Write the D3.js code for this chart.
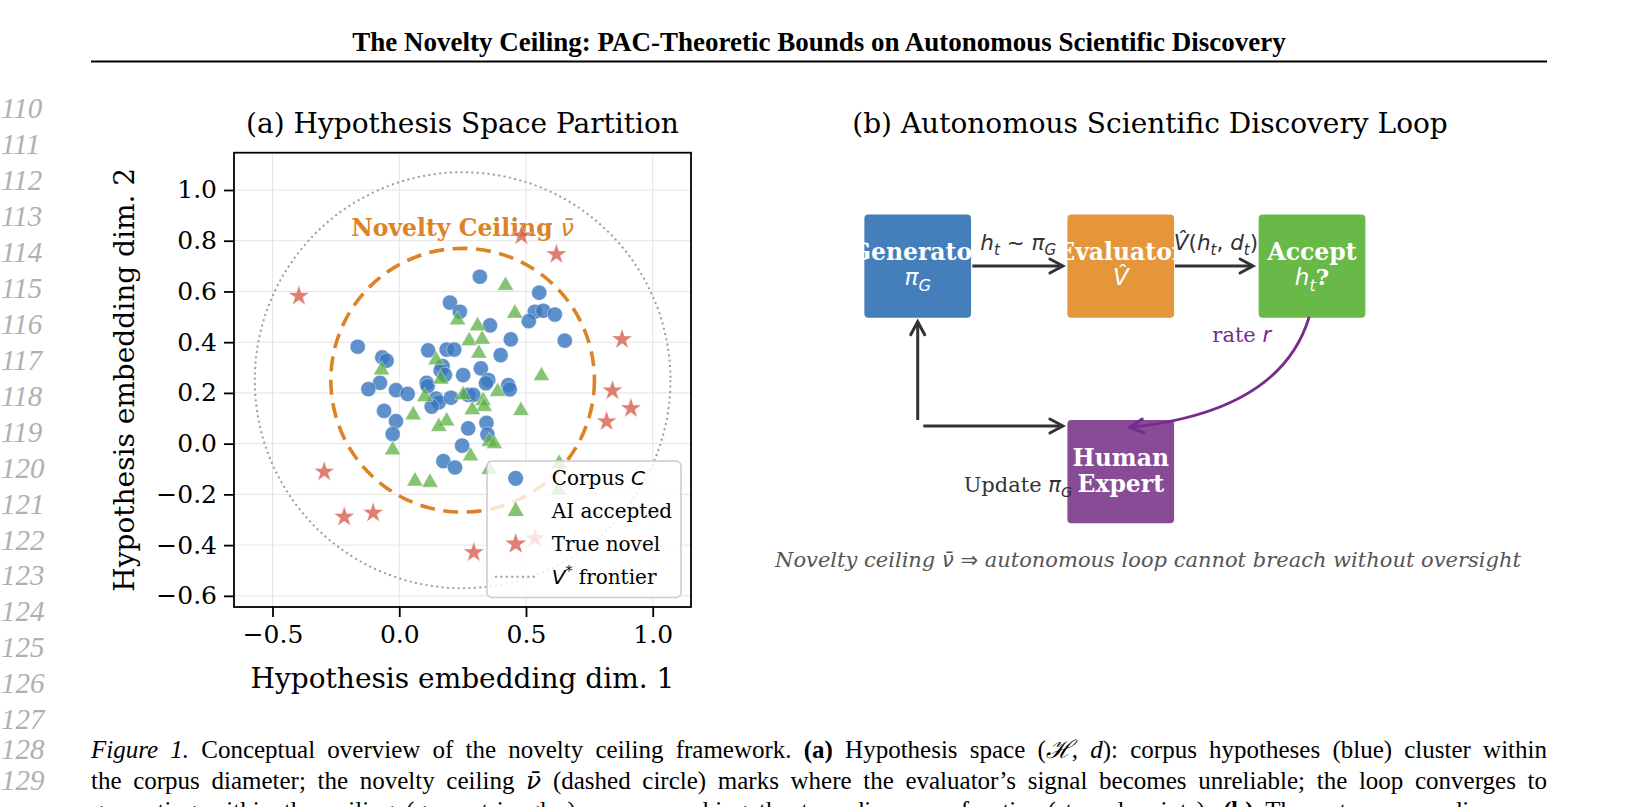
<!DOCTYPE html>
<html>
<head>
<meta charset="utf-8">
<script src="https://cdn.jsdelivr.net/npm/d3@7"></script>
<style>
  body { margin: 0; background: #fff; }
  svg { display: block; }
</style>
</head>
<body>
<script>
(function() {
  'use strict';

  // ---------- panel (a) data ----------
  var corpusX = [0.318, 0.200, 0.239, 0.358, 0.552, 0.535, 0.568, 0.614, 0.511, 0.653, 0.440, 0.400,
    -0.164, -0.067, -0.050, 0.114, 0.187, 0.217, 0.171, 0.163, 0.180, 0.252, 0.322, 0.351, 0.342,
    0.430, 0.436, 0.108, 0.112, -0.076, -0.122, -0.013, 0.033, 0.145, 0.156, 0.128, 0.204, 0.272,
    0.292, -0.060, -0.013, -0.026, 0.272, 0.344, 0.348, 0.248, 0.174, 0.220];
  var corpusY = [0.658, 0.556, 0.520, 0.466, 0.595, 0.520, 0.524, 0.509, 0.483, 0.406, 0.411, 0.349,
    0.382, 0.340, 0.327, 0.368, 0.371, 0.371, 0.306, 0.288, 0.271, 0.270, 0.297, 0.251, 0.238,
    0.231, 0.214, 0.240, 0.227, 0.240, 0.215, 0.211, 0.196, 0.178, 0.163, 0.146, 0.181, 0.192,
    0.192, 0.129, 0.089, 0.038, 0.060, 0.082, 0.036, -0.008, -0.069, -0.094];

  var acceptedX = [0.419, 0.456, 0.230, 0.309, 0.276, 0.327, 0.314, 0.145, -0.070, 0.164, 0.561, 0.388,
    0.331, 0.252, 0.101, 0.335, 0.288, 0.480, 0.055, 0.187, 0.156, 0.355, 0.375, -0.026, 0.281,
    0.355, 0.062, 0.121, 0.631, 0.627];
  var acceptedY = [0.623, 0.514, 0.487, 0.464, 0.405, 0.411, 0.356, 0.330, 0.290, 0.254, 0.267, 0.205,
    0.169, 0.192, 0.185, 0.146, 0.133, 0.130, 0.113, 0.089, 0.067, 0.008, -0.001, -0.025, -0.049,
    -0.102, -0.148, -0.153, -0.078, -0.183];

  var novelX = [-0.396, 0.482, 0.620, 0.879, 0.841, 0.914, 0.818, -0.296, -0.217, -0.103, 0.294, 0.535];
  var novelY = [0.582, 0.820, 0.746, 0.411, 0.209, 0.139, 0.087, -0.111, -0.289, -0.273, -0.429, -0.374];

  var ceilingCenter = [0.25, 0.25];
  var ceilingRadius = 0.52;
  var frontierRadius = 0.82;

  var xTicks = [-0.5, 0.0, 0.5, 1.0];
  var yTicks = [-0.6, -0.4, -0.2, 0.0, 0.2, 0.4, 0.6, 0.8, 1.0];

  // ---------- panel (b) data ----------
  var nodeIds = ['gen', 'eval', 'acc', 'human'];
  var nodeTitles = [['Generator'], ['Evaluator'], ['Accept'], ['Human', 'Expert']];

  // ---------- page text ----------
  var headerTitle = 'The Novelty Ceiling: PAC-Theoretic Bounds on Autonomous Scientific Discovery';
  var lineNumbers = d3.range(110, 130);
  var captionLines = [
    [['Figure 1.', 'i'], [' Conceptual overview of the novelty ceiling framework. ', ''], ['(a)', 'b'],
     [' Hypothesis space (', ''], ['\u210B', 'i'], [', ', ''], ['d', 'i'], ['): corpus hypotheses (blue) cluster within', '']],
    [['the corpus diameter; the novelty ceiling ', ''], ['\u03BD\u0304', 'di'],
     [' (dashed circle) marks where the evaluator\u2019s signal becomes unreliable; the loop converges to', '']],
    [['generating within the ceiling (green triangles), never reaching the true discovery frontier (starred points). ', ''],
     ['(b)', 'b'], [' The autonomous discovery', '']]
  ];

  var W = 1639, H = 807;
  var SERIF = "'DejaVu Serif', serif",
    SANS = "'DejaVu Sans', sans-serif",
    PAPER = "'Liberation Serif', 'Times New Roman', serif";

  var svg = d3.select('body').append('svg')
    .attr('width', W)
    .attr('height', H);

  // runs: [text, code]  m = math italic (sans), d = DejaVu Serif, i = italic, b = bold,
  // s = subscript, S = superscript
  function addRuns(sel, list, size, fam) {
    var shift = 0;
    list.forEach(function(r) {
      var code = r[1] || '';
      var f = fam, st = 'normal', wt = 'normal', fs = size, target = 0;
      if (code.indexOf('m') >= 0) { f = SANS; st = 'italic'; }
      if (code.indexOf('d') >= 0) f = SERIF;
      if (code.indexOf('i') >= 0) st = 'italic';
      if (code.indexOf('b') >= 0) wt = 'bold';
      if (code.indexOf('s') >= 0) { fs = size * 0.7; target = size * 0.24; }
      if (code.indexOf('S') >= 0) { fs = size * 0.7; target = -size * 0.4; }
      sel.append('tspan')
        .attr('dy', target - shift)
        .style('font-family', f)
        .style('font-style', st)
        .style('font-weight', wt)
        .style('font-size', fs + 'px')
        .text(r[0]);
      shift = target;
    });
    return sel;
  }

  //-----------------------Page header---------------------------
  svg.append('text')
    .attr('x', 819).attr('y', 51)
    .attr('text-anchor', 'middle')
    .style('font-family', PAPER)
    .style('font-weight', 'bold')
    .style('font-size', '27px')
    .text(headerTitle);

  svg.append('line')
    .attr('x1', 91).attr('x2', 1547)
    .attr('y1', 61.5).attr('y2', 61.5)
    .attr('stroke', '#000')
    .attr('stroke-width', 2);

  svg.append('g').selectAll('text')
    .data(lineNumbers)
    .enter().append('text')
    .attr('x', 1)
    .attr('y', function(d) {
      if (d === 128) return 759;
      if (d === 129) return 789.5;
      return 118 + (d - 110) * 35.96;
    })
    .style('font-family', PAPER)
    .style('font-style', 'italic')
    .style('font-size', '29px')
    .style('fill', '#b0b0b0')
    .text(function(d) { return d; });

  // caption, justified
  var capG = svg.append('g');
  var capBase = [758, 788.5, 819];
  captionLines.forEach(function(line, li) {
    var words = [[]];
    line.forEach(function(r) {
      var parts = r[0].split(' ');
      parts.forEach(function(p, pi) {
        if (pi > 0) words.push([]);
        if (p !== '') words[words.length - 1].push([p, r[1]]);
      });
    });
    words = words.filter(function(w) { return w.length; });
    var nodes = [], widths = [];
    words.forEach(function(w) {
      var t = capG.append('text').attr('y', capBase[li]).style('fill', '#000');
      addRuns(t, w, 25, PAPER);
      nodes.push(t);
      widths.push(t.node().getComputedTextLength());
    });
    var total = d3.sum(widths);
    var gap = (1547 - 91 - total) / (nodes.length - 1);
    var xx = 91;
    nodes.forEach(function(t, i) {
      t.attr('x', xx);
      xx += widths[i] + gap;
    });
  });

  //-----------------------Panel (a)---------------------------
  var plotL = 234, plotR = 691, plotT = 152.7, plotB = 607;
  var x = d3.scaleLinear().domain([-0.652, 1.151]).range([plotL, plotR]);
  var y = d3.scaleLinear().domain([-0.644, 1.147]).range([plotB, plotT]);

  var pa = svg.append('g');

  pa.append('clipPath').attr('id', 'clipA')
    .append('rect')
    .attr('x', plotL).attr('y', plotT)
    .attr('width', plotR - plotL).attr('height', plotB - plotT);

  // grid
  pa.append('g').selectAll('line.gx')
    .data(xTicks).enter().append('line')
    .attr('x1', x).attr('x2', x)
    .attr('y1', plotT).attr('y2', plotB)
    .attr('stroke', '#e4e4e4').attr('stroke-width', 1);
  pa.append('g').selectAll('line.gy')
    .data(yTicks).enter().append('line')
    .attr('x1', plotL).attr('x2', plotR)
    .attr('y1', y).attr('y2', y)
    .attr('stroke', '#e4e4e4').attr('stroke-width', 1);

  var inner = pa.append('g').attr('clip-path', 'url(#clipA)');

  function ring(r) {
    return {
      cx: x(ceilingCenter[0]), cy: y(ceilingCenter[1]),
      rx: x(ceilingCenter[0] + r) - x(ceilingCenter[0]),
      ry: y(ceilingCenter[1]) - y(ceilingCenter[1] + r)
    };
  }
  var fr = ring(frontierRadius);
  inner.append('ellipse')
    .attr('cx', fr.cx).attr('cy', fr.cy).attr('rx', fr.rx).attr('ry', fr.ry)
    .attr('fill', 'none')
    .attr('stroke', '#9c9c9c')
    .attr('stroke-width', 2)
    .attr('stroke-dasharray', '2,3.4');

  var cr = ring(ceilingRadius);
  inner.append('ellipse')
    .attr('cx', cr.cx).attr('cy', cr.cy).attr('rx', cr.rx).attr('ry', cr.ry)
    .attr('fill', 'none')
    .attr('stroke', '#dc8326')
    .attr('stroke-width', 3.6)
    .attr('stroke-dasharray', '15,8.5');

  var blue = '#3b78c0', green = '#5cb043', red = '#d65f4e', orange = '#dc8326';

  inner.append('g').selectAll('circle')
    .data(d3.range(corpusX.length)).enter().append('circle')
    .attr('cx', function(i) { return x(corpusX[i]); })
    .attr('cy', function(i) { return y(corpusY[i]); })
    .attr('r', 7.6)
    .attr('fill', blue)
    .attr('fill-opacity', 0.82)
    .attr('stroke', '#fff').attr('stroke-opacity', 0.5).attr('stroke-width', 0.8);

  var tri = d3.symbol().type(d3.symbolTriangle).size(115);
  inner.append('g').selectAll('path')
    .data(d3.range(acceptedX.length)).enter().append('path')
    .attr('transform', function(i) { return 'translate(' + x(acceptedX[i]) + ',' + y(acceptedY[i]) + ')'; })
    .attr('d', tri)
    .attr('fill', green)
    .attr('fill-opacity', 0.75)
    .attr('stroke', '#fff').attr('stroke-opacity', 0.5).attr('stroke-width', 0.8);

  // ceiling label
  var nl = inner.append('text')
    .attr('x', x(0.25)).attr('y', y(0.85) + 8)
    .attr('text-anchor', 'middle')
    .style('fill', orange);
  addRuns(nl, [['Novelty Ceiling ', 'b'], ['\u03BD\u0304', 'm']], 23.5, SERIF);

  var star = d3.symbol().type(d3.symbolStar).size(135);
  inner.append('g').selectAll('path')
    .data(d3.range(novelX.length)).enter().append('path')
    .attr('transform', function(i) { return 'translate(' + x(novelX[i]) + ',' + y(novelY[i]) + ')'; })
    .attr('d', star)
    .attr('fill', red)
    .attr('fill-opacity', 0.8)
    .attr('stroke', '#fff').attr('stroke-opacity', 0.5).attr('stroke-width', 0.8);

  // axes
  var fmt = d3.format('.1f');
  var xAxis = pa.append('g')
    .attr('transform', 'translate(0,' + plotB + ')')
    .call(d3.axisBottom(x).tickValues(xTicks).tickFormat(fmt).tickSize(10).tickPadding(8));
  var yAxis = pa.append('g')
    .attr('transform', 'translate(' + plotL + ',0)')
    .call(d3.axisLeft(y).tickValues(yTicks).tickFormat(fmt).tickSize(10).tickPadding(7));
  [xAxis, yAxis].forEach(function(a) {
    a.select('.domain').remove();
    a.selectAll('line').attr('stroke', '#000').attr('stroke-width', 1.8);
    a.selectAll('text')
      .style('font-family', SERIF)
      .style('font-size', '25px')
      .style('fill', '#000');
  });

  pa.append('rect')
    .attr('x', plotL).attr('y', plotT)
    .attr('width', plotR - plotL).attr('height', plotB - plotT)
    .attr('fill', 'none')
    .attr('stroke', '#000')
    .attr('stroke-width', 1.8);

  // legend
  var lg = pa.append('g');
  lg.append('rect')
    .attr('x', 487).attr('y', 461)
    .attr('width', 194).attr('height', 136.5)
    .attr('rx', 5)
    .attr('fill', '#fff').attr('fill-opacity', 0.8)
    .attr('stroke', '#cccccc').attr('stroke-width', 1.5);
  var rowY = [478.3, 511.2, 544, 576.8];
  lg.append('circle').attr('cx', 515.7).attr('cy', rowY[0]).attr('r', 7.6)
    .attr('fill', blue).attr('fill-opacity', 0.82);
  lg.append('path').attr('transform', 'translate(515.7,' + rowY[1] + ')').attr('d', tri)
    .attr('fill', green).attr('fill-opacity', 0.75);
  lg.append('path').attr('transform', 'translate(515.7,' + rowY[2] + ')').attr('d', star)
    .attr('fill', red).attr('fill-opacity', 0.8);
  lg.append('line').attr('x1', 495).attr('x2', 536).attr('y1', rowY[3]).attr('y2', rowY[3])
    .attr('stroke', '#9c9c9c').attr('stroke-width', 2).attr('stroke-dasharray', '2,3.4');
  var legendRuns = [
    [['Corpus ', ''], ['C', 'm']],
    [['AI accepted', '']],
    [['True novel', '']],
    [['V', 'm'], ['*', 'S'], [' frontier', '']]
  ];
  legendRuns.forEach(function(r, i) {
    var t = lg.append('text').attr('x', 551.7).attr('y', rowY[i] + 7).style('fill', '#000');
    addRuns(t, r, 20, SERIF);
  });

  // labels and title
  pa.append('text')
    .attr('x', (plotL + plotR) / 2).attr('y', 133)
    .attr('text-anchor', 'middle')
    .style('font-family', SERIF).style('font-size', '28px')
    .text('(a) Hypothesis Space Partition');
  pa.append('text')
    .attr('x', (plotL + plotR) / 2).attr('y', 688)
    .attr('text-anchor', 'middle')
    .style('font-family', SERIF).style('font-size', '28px')
    .text('Hypothesis embedding dim. 1');
  pa.append('text')
    .attr('transform', 'translate(134,' + (plotT + plotB) / 2 + ') rotate(-90)')
    .attr('text-anchor', 'middle')
    .style('font-family', SERIF).style('font-size', '28px')
    .text('Hypothesis embedding dim. 2');

  //-----------------------Panel (b)---------------------------
  var dX = d3.scaleLinear().domain([0, 10]).range([760, 1540]);
  var dY = d3.scaleLinear().domain([0, 6]).range([620, 152]);
  var pb = svg.append('g');

  var layout = {
    gen: {cx: 2.022, cy: 4.538, color: '#447ebb'},
    eval: {cx: 4.625, cy: 4.538, color: '#e5963a'},
    acc: {cx: 7.077, cy: 4.538, color: '#68b947'},
    human: {cx: 4.625, cy: 1.901, color: '#884c97'}
  };
  var boxW = 1.368, boxH = 1.324;

  var mathLines = {
    gen: [['\u03C0', 'm'], ['G', 'ms']],
    eval: [['V\u0302', 'm']],
    acc: [['h', 'm'], ['t', 'ms'], ['?', 'b']]
  };

  nodeIds.forEach(function(id, i) {
    var n = layout[id];
    var px = dX(n.cx), py = dY(n.cy);
    pb.append('rect')
      .attr('x', dX(n.cx - boxW / 2)).attr('y', dY(n.cy + boxH / 2))
      .attr('width', dX(boxW) - dX(0)).attr('height', dY(0) - dY(boxH))
      .attr('rx', 4)
      .attr('fill', n.color);
    var titles = nodeTitles[i];
    if (titles.length === 2) {
      titles.forEach(function(t, k) {
        pb.append('text')
          .attr('x', px).attr('y', py + (k === 0 ? -6 : 20.5))
          .attr('text-anchor', 'middle')
          .style('font-family', SERIF).style('font-weight', 'bold').style('font-size', '23.5px')
          .style('fill', '#fff')
          .text(t);
      });
    } else {
      pb.append('text')
        .attr('x', px).attr('y', py - 6.5)
        .attr('text-anchor', 'middle')
        .style('font-family', SERIF).style('font-weight', 'bold').style('font-size', '23.5px')
        .style('fill', '#fff')
        .text(titles[0]);
      var m = pb.append('text')
        .attr('x', px).attr('y', py + 19)
        .attr('text-anchor', 'middle')
        .style('fill', '#fff');
      addRuns(m, mathLines[id], 23, SERIF);
    }
  });

  function head(g, tip, ang, color) {
    var len = 13, hw = 7;
    var bx = tip[0] - len * Math.cos(ang), by = tip[1] - len * Math.sin(ang);
    var nx = -Math.sin(ang) * hw, ny = Math.cos(ang) * hw;
    g.append('path')
      .attr('d', 'M' + (bx + nx) + ',' + (by + ny) + 'L' + tip[0] + ',' + tip[1] + 'L' + (bx - nx) + ',' + (by - ny))
      .attr('fill', 'none')
      .attr('stroke', color)
      .attr('stroke-width', 3)
      .attr('stroke-linecap', 'round')
      .attr('stroke-linejoin', 'miter');
  }

  var straight = [
    [[2.722, 4.538], [3.883, 4.538]],
    [[5.321, 4.538], [6.321, 4.538]],
    [[2.022, 2.564], [2.022, 3.824]],
    [[2.094, 2.487], [3.883, 2.487]]
  ];
  var dark = '#333333';
  straight.forEach(function(a) {
    var p0 = [dX(a[0][0]), dY(a[0][1])], p1 = [dX(a[1][0]), dY(a[1][1])];
    pb.append('line')
      .attr('x1', p0[0]).attr('y1', p0[1]).attr('x2', p1[0]).attr('y2', p1[1])
      .attr('stroke', dark).attr('stroke-width', 3);
    head(pb, p1, Math.atan2(p1[1] - p0[1], p1[0] - p0[0]), dark);
  });

  var purple = '#772b8b';
  var cv = [[7.042, 3.888], [6.673, 2.667], [4.744, 2.471]].map(function(p) { return [dX(p[0]), dY(p[1])]; });
  var cpath = d3.path();
  cpath.moveTo(cv[0][0], cv[0][1]);
  cpath.quadraticCurveTo(cv[1][0], cv[1][1], cv[2][0], cv[2][1]);
  pb.append('path')
    .attr('d', cpath.toString())
    .attr('fill', 'none')
    .attr('stroke', purple)
    .attr('stroke-width', 2.8);
  head(pb, cv[2], Math.atan2(cv[2][1] - cv[1][1], cv[2][0] - cv[1][0]), purple);

  // arrow labels
  var l1 = pb.append('text').attr('x', dX(3.31)).attr('y', dY(4.744))
    .attr('text-anchor', 'middle').style('fill', dark);
  addRuns(l1, [['h', 'm'], ['t', 'ms'], [' ~ ', 'm'], ['\u03C0', 'm'], ['G', 'ms']], 21.5, SERIF);

  var l2 = pb.append('text').attr('x', dX(5.846)).attr('y', dY(4.744))
    .attr('text-anchor', 'middle').style('fill', dark);
  addRuns(l2, [['V\u0302', 'm'], ['(', 'm'], ['h', 'm'], ['t', 'ms'], [', ', 'm'], ['d', 'm'], ['t', 'ms'], [')', 'm']], 21.5, SERIF);
  l2.selectAll('tspan').filter(function() { return this.textContent === '(' || this.textContent === ')' || this.textContent === ', '; })
    .style('font-style', 'normal');

  var l3 = pb.append('text').attr('x', dX(6.176)).attr('y', dY(3.568))
    .attr('text-anchor', 'middle').style('fill', purple);
  addRuns(l3, [['rate ', ''], ['r', 'm']], 21, SERIF);

  var l4 = pb.append('text').attr('x', dX(3.308)).attr('y', dY(1.645))
    .attr('text-anchor', 'middle').style('fill', dark);
  addRuns(l4, [['Update ', ''], ['\u03C0', 'm'], ['G', 'ms']], 21, SERIF);

  var l5 = pb.append('text').attr('x', dX(4.974)).attr('y', dY(0.679))
    .attr('text-anchor', 'middle').style('fill', '#555');
  addRuns(l5, [['Novelty ceiling ', 'i'], ['\u03BD\u0304', 'm'], [' \u21D2 ', 'm'], ['autonomous loop cannot breach without oversight', 'i']], 21, SERIF);

  pb.append('text')
    .attr('x', 1150).attr('y', 133)
    .attr('text-anchor', 'middle')
    .style('font-family', SERIF).style('font-size', '28px')
    .text('(b) Autonomous Scientific Discovery Loop');
})();
</script>
</body>
</html>
